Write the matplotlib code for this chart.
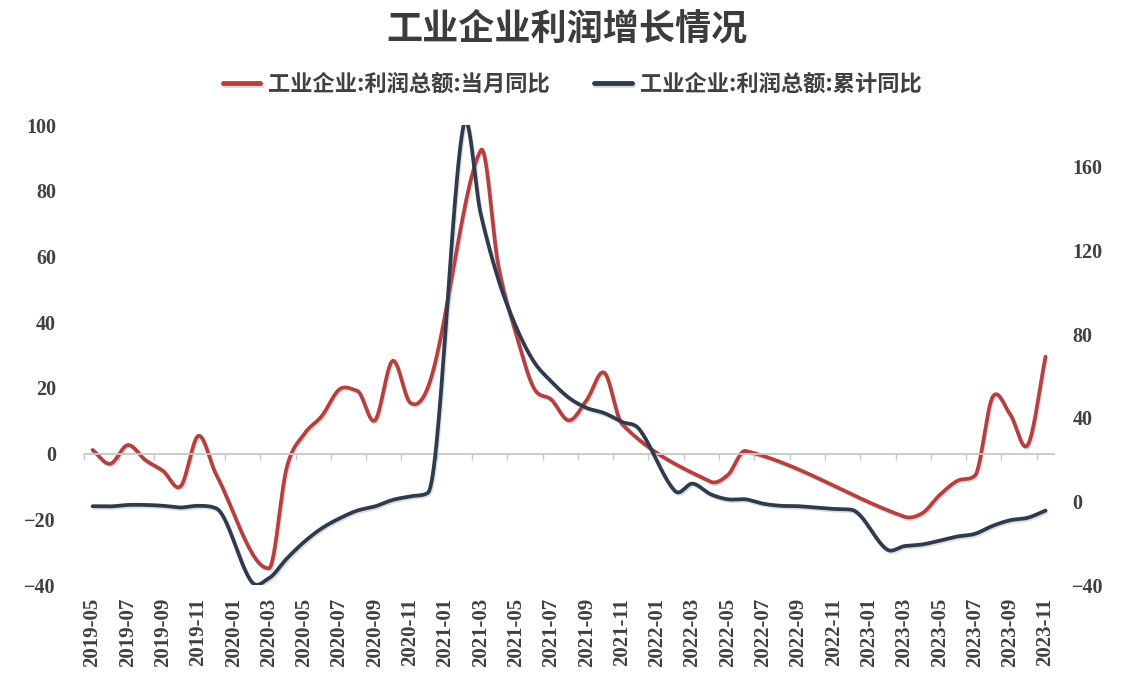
import numpy as np
import pandas as pd
import matplotlib
matplotlib.use('Agg')
import matplotlib.pyplot as plt
from matplotlib import patheffects as pe

nan = np.nan

# monthly categories 2019-05 .. 2023-11
months = [p.strftime('%Y-%m') for p in pd.period_range('2019-05', '2023-11', freq='M')]

# 工业企业:利润总额:当月同比 (%), left axis; gaps are left empty and joined by the line
profit_month_yoy = [
    1.1, -3.1, 2.6, -2.0, -5.3, -9.9, 5.4, -6.3,                         # 2019-05..12
    nan, nan, -34.9, -4.3, 6.0, 11.5, 19.6, 19.1, 10.1, 28.2, 15.5, 20.1,  # 2020
    nan, nan, 92.3, 57.0, 36.4, 20.0, 16.4, 10.1, 16.3, 24.6, 9.0, nan,    # 2021
    nan, nan, nan, -8.5, -6.5, 0.8, nan, nan, nan, nan, nan, nan,          # 2022
    nan, nan, -19.2, -18.2, -12.6, -8.3, -6.7, 17.2, 11.9, 2.7, 29.5,      # 2023-01..11
]

# 工业企业:利润总额:累计同比 (%), right axis
profit_cum_yoy = [
    -2.3, -2.4, -1.7, -1.7, -2.1, -2.9, -2.1, -3.3,
    nan, -38.3, -36.7, -27.4, -19.3, -12.8, -8.1, -4.4, -2.4, 0.7, 2.4, 4.1,
    nan, 178.9, 137.3, 106.0, 83.4, 66.9, 57.3, 49.5, 44.7, 42.2, 38.0, 34.3,
    nan, 5.0, 8.5, 3.5, 1.0, 1.0, -1.1, -2.1, -2.3, -3.0, -3.6, -4.0,
    nan, -22.9, -21.4, -20.6, -18.8, -16.8, -15.5, -11.7, -9.0, -7.8, -4.4,
]

label_month = '工业企业:利润总额:当月同比'
label_cum = '工业企业:利润总额:累计同比'
title = '工业企业利润增长情况'

RED = '#b5403f'
NAVY = '#2e3b4e'
TXT = '#404040'
CJK = ['Noto Sans CJK SC', 'DejaVu Sans']
NUM = ['Liberation Serif', 'DejaVu Serif']


def smooth(xs, ys, n=30):
    # smoothed line through the valid points, gaps joined.
    # catmull-rom slopes, limited only on monotone stretches so steep jumps don't dip
    xs = np.asarray(xs, float)
    ys = np.asarray(ys, float)
    ok = ~np.isnan(ys)
    X, Y = xs[ok], ys[ok]
    h = np.diff(X)
    d = np.diff(Y) / h
    m = np.zeros_like(Y)
    m[0], m[-1] = d[0], d[-1]
    for k in range(1, len(Y) - 1):
        m[k] = (Y[k + 1] - Y[k - 1]) / (X[k + 1] - X[k - 1])
        if d[k - 1] * d[k] > 0:
            lim = 3 * min(abs(d[k - 1]), abs(d[k]))
            m[k] = np.sign(m[k]) * min(abs(m[k]), lim)
    px, py = [], []
    t = np.linspace(0, 1, n)
    for k in range(len(Y) - 1):
        h00 = 2 * t ** 3 - 3 * t ** 2 + 1
        h10 = t ** 3 - 2 * t ** 2 + t
        h01 = -2 * t ** 3 + 3 * t ** 2
        h11 = t ** 3 - t ** 2
        seg_y = h00 * Y[k] + h10 * h[k] * m[k] + h01 * Y[k + 1] + h11 * h[k] * m[k + 1]
        seg_x = X[k] + t * h[k]
        s = 0 if k == 0 else 1
        px.append(seg_x[s:])
        py.append(seg_y[s:])
    return np.concatenate(px), np.concatenate(py)


x = np.arange(len(months))

fig = plt.figure(figsize=(11.33, 6.82), dpi=100)
ax = fig.add_axes([0.0739, 0.1422, 0.8567, 0.6745])
ax2 = ax.twinx()

shadow = [pe.SimpleLineShadow(offset=(0.8, -1.2), shadow_color='#999999', alpha=0.35), pe.Normal()]

sx, sy = smooth(x, profit_month_yoy)
l1, = ax.plot(sx, sy, color=RED, lw=2.7, solid_capstyle='round', path_effects=shadow, label=label_month)
bx, by = smooth(x, profit_cum_yoy)
l2, = ax2.plot(bx, by, color=NAVY, lw=2.7, solid_capstyle='round', path_effects=shadow, label=label_cum)

ax.set_xlim(-0.5, len(months) - 0.5)
ax.set_ylim(-40, 100)
ax.set_yticks(range(-40, 101, 20))
ax2.set_ylim(-40, 180)
ax2.set_yticks(range(-40, 161, 40))

for a in (ax, ax2):
    for s in ('top', 'left', 'right'):
        a.spines[s].set_visible(False)
ax2.spines['bottom'].set_visible(False)

# category axis line sits at zero, with small ticks between every second month
ax.spines['bottom'].set_position(('data', 0))
ax.spines['bottom'].set_color('#c8c8c8')
ax.spines['bottom'].set_linewidth(1.3)
ax.set_xticks([])
ax.set_xticks(np.arange(-0.5, len(months), 2), minor=True)
ax.tick_params(axis='x', which='minor', length=4, width=1, color='#c8c8c8', direction='out')

# month labels at the bottom of the plot
sec = ax.secondary_xaxis('bottom')
sec.set_xticks(x[::2], labels=months[::2])
sec.spines['bottom'].set_visible(False)
sec.tick_params(axis='x', length=0, pad=9, labelrotation=90, labelsize=15, labelcolor=TXT)
for t in sec.get_xticklabels():
    t.set_family(NUM)
    t.set_fontweight('bold')

ax.tick_params(axis='y', length=0, pad=20, labelsize=14.5, labelcolor=TXT)
ax2.tick_params(axis='y', length=0, pad=13, labelsize=14.5, labelcolor=TXT)
for t in ax.get_yticklabels() + ax2.get_yticklabels():
    t.set_family(NUM)
    t.set_fontweight('bold')

fig.text(0.5, 0.957, title, ha='center', va='center', fontsize=26, fontweight='bold',
         color='#3c3c3c', family=CJK)

leg = fig.legend([l1, l2], [label_month, label_cum], loc='center', bbox_to_anchor=(0.505, 0.876),
                 ncol=2, frameon=False, handlelength=1.7, handletextpad=0.35, columnspacing=2.0,
                 prop={'family': CJK, 'size': 16, 'weight': 'bold'})
for t in leg.get_texts():
    t.set_color(TXT)
for h in leg.legend_handles:
    h.set_linewidth(3.5)

fig.savefig('out.png', dpi=100, facecolor='white')
